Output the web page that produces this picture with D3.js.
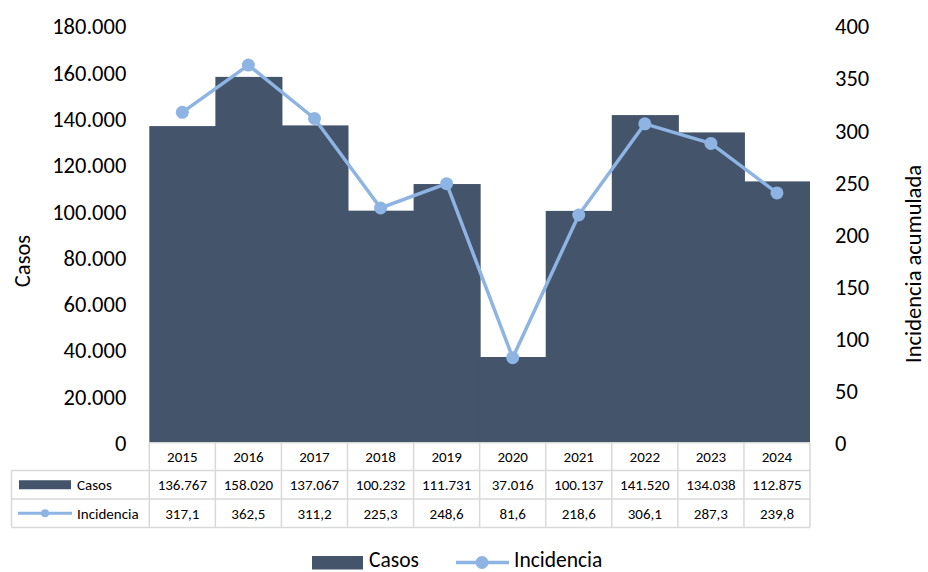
<!DOCTYPE html>
<html>
<head>
<meta charset="utf-8">
<script src="https://cdn.jsdelivr.net/npm/d3@7"></script>
<style>
  body { margin: 0; background: #fff; }
  text { font-family: Carlito, Lato, "Noto Sans", sans-serif; fill: #000; }
</style>
</head>
<body>
<div id="chart"></div>
<script>
// data
var years = ["2015", "2016", "2017", "2018", "2019", "2020", "2021", "2022", "2023", "2024"];
var casos = [136767, 158020, 137067, 100232, 111731, 37016, 100137, 141520, 134038, 112875];
var incidencia = [317.1, 362.5, 311.2, 225.3, 248.6, 81.6, 218.6, 306.1, 287.3, 239.8];
var casosLabels = ["136.767", "158.020", "137.067", "100.232", "111.731", "37.016", "100.137", "141.520", "134.038", "112.875"];
var incidenciaLabels = ["317,1", "362,5", "311,2", "225,3", "248,6", "81,6", "218,6", "306,1", "287,3", "239,8"];
var leftTicks = [0, 20000, 40000, 60000, 80000, 100000, 120000, 140000, 160000, 180000];
var rightTicks = [0, 50, 100, 150, 200, 250, 300, 350, 400];

var W = 928, H = 572;
var plot = {left: 149.3, right: 810, top: 26, bottom: 442.7};
var barColor = "#44546a", lineColor = "#8db4e3", gridColor = "#d9d9d9";
var bigFont = "22.5px", tableFont = "15px";

var svg = d3.select("#chart").append("svg")
    .attr("width", W)
    .attr("height", H);

var x = d3.scaleBand().domain(years).range([plot.left, plot.right]).padding(0);
var yL = d3.scaleLinear().domain([0, 180000]).range([plot.bottom, plot.top]);
var yR = d3.scaleLinear().domain([0, 400]).range([plot.bottom, plot.top]);

var fmtThousands = function(v) {
    return d3.format(",")(v).replace(/,/g, ".");
};

//bars, no gap (slight overlap so no seams show)
svg.append("g").selectAll("rect")
    .data(years)
    .enter().append("rect")
    .attr("x", function(d) { return x(d); })
    .attr("width", function(d, i) { return x.bandwidth() + (i < years.length - 1 ? 1 : 0); })
    .attr("y", function(d, i) { return yL(casos[i]); })
    .attr("height", function(d, i) { return plot.bottom - yL(casos[i]); })
    .attr("fill", barColor);

//line + markers
var line = d3.line()
    .x(function(d, i) { return x(years[i]) + x.bandwidth() / 2; })
    .y(function(d) { return yR(d); });

svg.append("path")
    .datum(incidencia)
    .attr("d", line)
    .attr("fill", "none")
    .attr("stroke", lineColor)
    .attr("stroke-width", 3.5)
    .attr("stroke-linejoin", "round");

svg.append("g").selectAll("circle")
    .data(incidencia)
    .enter().append("circle")
    .attr("cx", function(d, i) { return x(years[i]) + x.bandwidth() / 2; })
    .attr("cy", function(d) { return yR(d); })
    .attr("r", 6.5)
    .attr("fill", lineColor);

//axes
var leftAxis = d3.axisLeft(yL).tickValues(leftTicks).tickFormat(fmtThousands).tickSize(0).tickPadding(23);
var gL = svg.append("g").attr("transform", "translate(" + plot.left + ",0)").call(leftAxis);
gL.select(".domain").remove();
gL.selectAll("text").style("font-size", bigFont).attr("dy", "0.35em");

var rightAxis = d3.axisRight(yR).tickValues(rightTicks).tickSize(0).tickPadding(25);
var gR = svg.append("g").attr("transform", "translate(" + plot.right + ",0)").call(rightAxis);
gR.select(".domain").remove();
gR.selectAll("text").style("font-size", bigFont).attr("dy", "0.35em");

svg.append("text")
    .attr("transform", "translate(30,261) rotate(-90)")
    .attr("text-anchor", "middle")
    .style("font-size", bigFont)
    .text("Casos");

svg.append("text")
    .attr("transform", "translate(921,264) rotate(-90)")
    .attr("text-anchor", "middle")
    .style("font-size", bigFont)
    .text("Incidencia acumulada");

//data table
var rowY = [442.7, 470.5, 499, 527.5];
var tableLeft = 11.5;
var table = svg.append("g");

// horizontal lines
table.append("line").attr("x1", plot.left).attr("x2", plot.right).attr("y1", rowY[0]).attr("y2", rowY[0]);
[1, 2, 3].forEach(function(r) {
    table.append("line").attr("x1", tableLeft).attr("x2", plot.right).attr("y1", rowY[r]).attr("y2", rowY[r]);
});
// vertical lines
table.append("line").attr("x1", tableLeft).attr("x2", tableLeft).attr("y1", rowY[1]).attr("y2", rowY[3]);
years.forEach(function(yr) {
    table.append("line").attr("x1", x(yr)).attr("x2", x(yr)).attr("y1", rowY[0]).attr("y2", rowY[3]);
});
table.append("line").attr("x1", plot.right).attr("x2", plot.right).attr("y1", rowY[0]).attr("y2", rowY[3]);
table.selectAll("line").attr("stroke", gridColor).attr("stroke-width", 1.5);

var cellText = function(row, labels) {
    table.append("g").selectAll("text")
        .data(labels)
        .enter().append("text")
        .attr("x", function(d, i) { return x(years[i]) + x.bandwidth() / 2; })
        .attr("y", (rowY[row] + rowY[row + 1]) / 2)
        .attr("dy", "0.35em")
        .attr("text-anchor", "middle")
        .style("font-size", tableFont)
        .text(function(d) { return d; });
};
cellText(0, years);
cellText(1, casosLabels);
cellText(2, incidenciaLabels);

// row legend keys
var midC = (rowY[1] + rowY[2]) / 2, midI = (rowY[2] + rowY[3]) / 2;
table.append("rect").attr("x", 19).attr("y", midC - 4.5).attr("width", 52).attr("height", 9).attr("fill", barColor);
table.append("text").attr("x", 77).attr("y", midC).attr("dy", "0.35em").style("font-size", tableFont).text("Casos");
table.append("line").attr("x1", 18).attr("x2", 72).attr("y1", midI).attr("y2", midI)
    .attr("stroke", lineColor).attr("stroke-width", 3);
table.append("circle").attr("cx", 45).attr("cy", midI).attr("r", 4).attr("fill", lineColor);
table.append("text").attr("x", 77).attr("y", midI).attr("dy", "0.35em").style("font-size", tableFont).text("Incidencia");

//bottom legend
var legY = 562.5, legTextY = 559.5, legFont = "21.5px";
var legend = svg.append("g");
legend.append("rect").attr("x", 312).attr("y", legY - 6.5).attr("width", 51).attr("height", 13.5).attr("fill", barColor);
legend.append("text").attr("x", 369).attr("y", legTextY).attr("dy", "0.35em").style("font-size", legFont).text("Casos");
legend.append("line").attr("x1", 456).attr("x2", 509).attr("y1", legY).attr("y2", legY)
    .attr("stroke", lineColor).attr("stroke-width", 3.5);
legend.append("circle").attr("cx", 482).attr("cy", legY).attr("r", 6.5).attr("fill", lineColor);
legend.append("text").attr("x", 514).attr("y", legTextY).attr("dy", "0.35em").style("font-size", legFont).text("Incidencia");
</script>
</body>
</html>
